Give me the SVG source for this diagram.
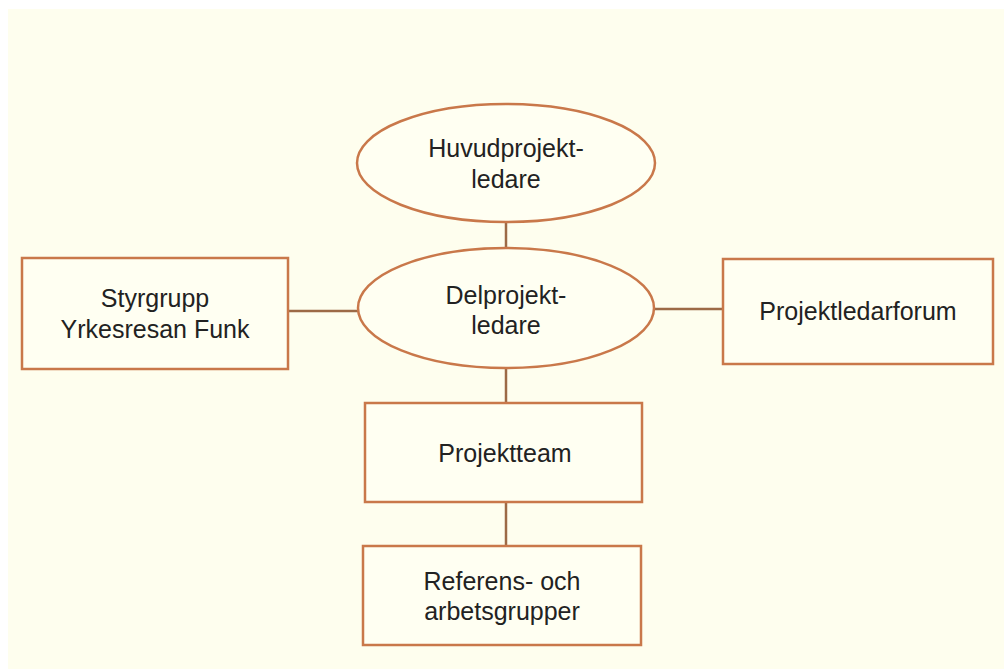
<svg xmlns="http://www.w3.org/2000/svg" width="1004" height="669" viewBox="0 0 1004 669">
<style>
.bg{fill:#fefeee}
.shape{fill:#fffff2;stroke:#c9784a;stroke-width:2.5}
.conn{stroke:#9c6a46;stroke-width:2.5;fill:none}
text{font-family:"Liberation Sans",Arial,sans-serif;font-size:25px;fill:#222;text-anchor:middle}
</style>
<rect width="1004" height="669" fill="#ffffff"/>
<rect class="bg" x="8" y="9" width="996" height="660"/>
<g id="connectors">
<line class="conn" x1="506" y1="222" x2="506" y2="247"/>
<line class="conn" x1="288" y1="311" x2="358" y2="311"/>
<line class="conn" x1="655" y1="309" x2="723" y2="309"/>
<line class="conn" x1="506" y1="368" x2="506" y2="403"/>
<line class="conn" x1="506" y1="502" x2="506" y2="546"/>
</g>
<g id="huvudprojektledare">
<ellipse class="shape" cx="506" cy="163" rx="149" ry="59"/>
<text x="506" y="157">Huvudprojekt-</text>
<text x="506" y="188">ledare</text>
</g>
<g id="delprojektledare">
<ellipse class="shape" cx="506" cy="308" rx="148" ry="60"/>
<text x="506" y="304">Delprojekt-</text>
<text x="506" y="334">ledare</text>
</g>
<g id="styrgrupp">
<rect class="shape" x="22" y="258" width="266" height="111"/>
<text x="155" y="307">Styrgrupp</text>
<text x="155" y="338">Yrkesresan Funk</text>
</g>
<g id="projektledarforum">
<rect class="shape" x="723" y="259" width="270" height="105"/>
<text x="858" y="320">Projektledarforum</text>
</g>
<g id="projektteam">
<rect class="shape" x="365" y="403" width="277" height="99"/>
<text x="505" y="462">Projektteam</text>
</g>
<g id="referens">
<rect class="shape" x="363" y="546" width="278" height="99"/>
<text x="502" y="590">Referens- och</text>
<text x="502" y="620">arbetsgrupper</text>
</g>
</svg>
